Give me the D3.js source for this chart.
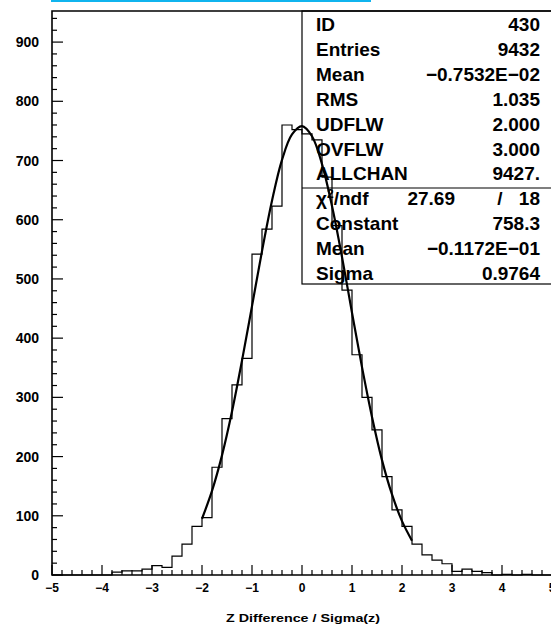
<!DOCTYPE html>
<html>
<head>
<meta charset="utf-8">
<script src="https://cdn.jsdelivr.net/npm/d3@7"></script>
<style>
  html, body { margin: 0; padding: 0; background: #fff; }
  svg { display: block; }
  text { font-family: "Liberation Sans", Arial, sans-serif; fill: #000; }
</style>
</head>
<body>
<svg id="chart" width="551" height="624"></svg>
<script>
// ---- data ----
const binLow = -5.0;           // first bin left edge
const binWidth = 0.2;
const binCounts = [
  0, 0, 0, 0, 0, 0, 5, 7, 7, 10,
  16, 13, 32, 52, 82, 97, 182, 264, 321, 366,
  542, 584, 623, 760, 752, 745, 735, 672, 590, 481,
  372, 300, 245, 166, 110, 82, 52, 34, 25, 19,
  6, 10, 6, 4, 0, 1, 0, 1, 0, 0
];
// fitted curve
const fitX = [-2.0, -1.8, -1.6, -1.4, -1.2, -1.0, -0.8, -0.6, -0.4, -0.2, 0.0,
              0.2, 0.4, 0.6, 0.8, 1.0, 1.2, 1.4, 1.6, 1.8, 2.0, 2.2];
const fitY = [95, 142, 202, 276, 362, 454, 547, 632, 701, 744, 758,
              741, 694, 623, 537, 443, 351, 267, 194, 136, 91, 58];
const xTickValues = [-5, -4, -3, -2, -1, 0, 1, 2, 3, 4, 5];
const xTickLabels = ["\u22125", "\u22124", "\u22123", "\u22122", "\u22121", "0", "1", "2", "3", "4", "5"];
const yTickValues = [0, 100, 200, 300, 400, 500, 600, 700, 800, 900];
const yTickLabels = ["0", "100", "200", "300", "400", "500", "600", "700", "800", "900"];
const xTitle = "Z Difference / Sigma(z)";
const statNames = ["ID", "Entries", "Mean", "RMS", "UDFLW", "OVFLW", "ALLCHAN"];
const statValues = ["430", "9432", "\u22120.7532E\u221202", "1.035", "2.000", "3.000", "9427."];
const fitNames = ["Constant", "Mean", "Sigma"];
const fitValues = ["758.3", "\u22120.1172E\u221201", "0.9764"];
const chi2 = "27.69";
const ndf = "18";

// ---- layout ----
const svg = d3.select("#chart");
const pL = 52, pR = 552, pT = 11, pB = 575;
const x = d3.scaleLinear().domain([-5, 5]).range([pL, pR]);
const y = d3.scaleLinear().domain([0, 952.5]).range([pB, pT]);

// blue link bar at very top
svg.append("rect").attr("x", 51).attr("y", 0).attr("width", 320).attr("height", 2)
  .attr("fill", "#10b4ee");

// frame
svg.append("path")
  .attr("d", `M${pL},${pB}V${pT}H${pR}V${pB}Z`)
  .attr("fill", "none").attr("stroke", "#000").attr("stroke-width", 1.6);

// x ticks (inward)
const xMinor = d3.range(0, 51).map(i => -5 + i * 0.2);
svg.append("g").selectAll("line").data(xMinor).join("line")
  .attr("x1", d => x(d)).attr("x2", d => x(d))
  .attr("y1", pB)
  .attr("y2", d => pB - (Math.abs(d - Math.round(d)) < 1e-6 ? 10 : 5))
  .attr("stroke", "#000").attr("stroke-width", 1.2);
svg.append("g").selectAll("text").data(xTickValues).join("text")
  .attr("x", d => x(d)).attr("y", 592)
  .attr("text-anchor", "middle")
  .style("font-size", "12px").style("font-weight", "bold")
  .text((d, i) => xTickLabels[i]);

// y ticks (inward)
const yMinor = d3.range(0, 950, 20);
svg.append("g").selectAll("line").data(yMinor).join("line")
  .attr("x1", pL)
  .attr("x2", d => pL + (d % 100 === 0 ? 11 : 5))
  .attr("y1", d => y(d)).attr("y2", d => y(d))
  .attr("stroke", "#000").attr("stroke-width", 1.2);
svg.append("g").selectAll("text").data(yTickValues).join("text")
  .attr("x", 39).attr("y", d => y(d)).attr("dy", "0.36em")
  .attr("text-anchor", "end")
  .style("font-size", "14px").style("font-weight", "bold")
  .text((d, i) => yTickLabels[i]);

// x title
svg.append("text").attr("x", 303).attr("y", 622).attr("text-anchor", "middle")
  .attr("textLength", 154).attr("lengthAdjust", "spacingAndGlyphs")
  .style("font-size", "11.5px").style("font-weight", "bold")
  .text(xTitle);

// stats box
const boxL = 302, boxB = 284, divY = 188;
svg.append("rect").attr("x", boxL).attr("y", pT).attr("width", pR - boxL).attr("height", boxB - pT)
  .attr("fill", "none").attr("stroke", "#000").attr("stroke-width", 1.2);
svg.append("line").attr("x1", boxL).attr("x2", pR).attr("y1", divY).attr("y2", divY)
  .attr("stroke", "#000").attr("stroke-width", 1.2);

const rowY = i => 31 + 24.9 * i;
const statG = svg.append("g").style("font-size", "19px").style("font-weight", "bold");
statNames.forEach((n, i) => {
  statG.append("text").attr("x", 316).attr("y", rowY(i)).text(n);
  statG.append("text").attr("x", 540).attr("y", rowY(i)).attr("text-anchor", "end").text(statValues[i]);
});
// chi2 row
const chiT = statG.append("text").attr("x", 316).attr("y", rowY(7));
chiT.append("tspan").text("\u03c7");
chiT.append("tspan").attr("dy", -7).style("font-size", "12px").text("2");
chiT.append("tspan").attr("dy", 7).text("/ndf");
statG.append("text").attr("x", 455).attr("y", rowY(7)).attr("text-anchor", "end").text(chi2);
statG.append("text").attr("x", 500).attr("y", rowY(7)).attr("text-anchor", "middle").text("/");
statG.append("text").attr("x", 540).attr("y", rowY(7)).attr("text-anchor", "end").text(ndf);
fitNames.forEach((n, i) => {
  statG.append("text").attr("x", 316).attr("y", rowY(8 + i)).text(n);
  statG.append("text").attr("x", 540).attr("y", rowY(8 + i)).attr("text-anchor", "end").text(fitValues[i]);
});

// histogram outline
const pts = [[binLow, 0]];
binCounts.forEach((c, i) => {
  const x0 = binLow + i * binWidth, x1 = x0 + binWidth;
  pts.push([x0, c], [x1, c]);
});
pts.push([binLow + binCounts.length * binWidth, 0]);
svg.append("path")
  .attr("d", d3.line().x(d => x(d[0])).y(d => y(d[1]))(pts))
  .attr("fill", "none").attr("stroke", "#000").attr("stroke-width", 1.2);

// fit curve
svg.append("path")
  .attr("d", d3.line().curve(d3.curveCatmullRom).x((d, i) => x(fitX[i])).y(d => y(d))(fitY))
  .attr("fill", "none").attr("stroke", "#000").attr("stroke-width", 2.2);
</script>
</body>
</html>
